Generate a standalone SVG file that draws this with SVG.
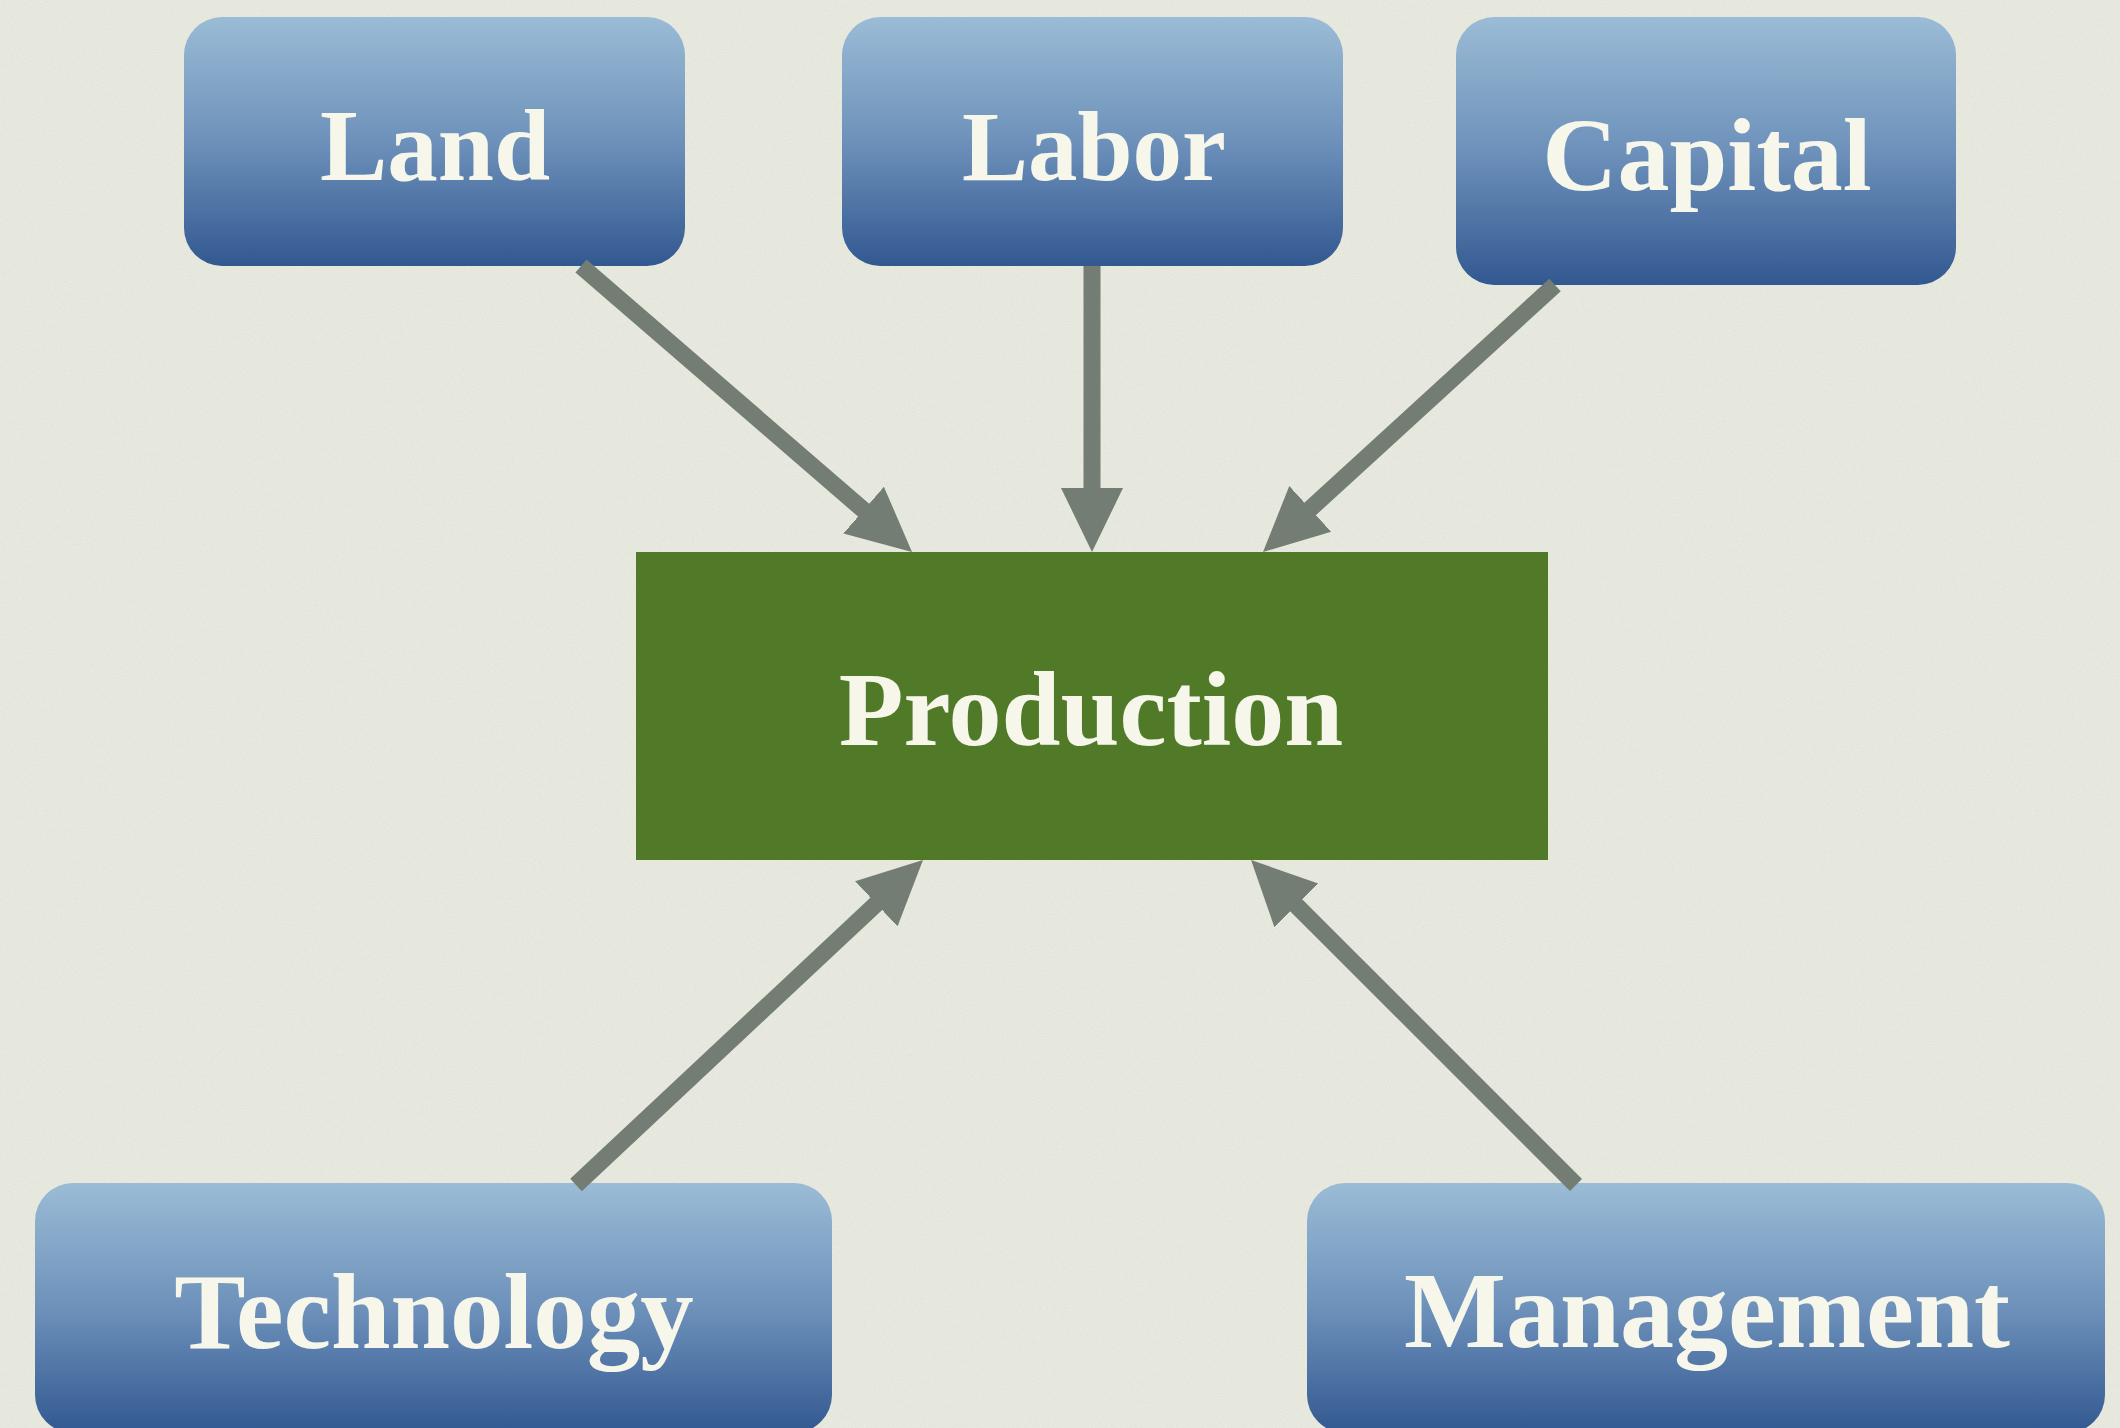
<svg xmlns="http://www.w3.org/2000/svg" width="2120" height="1428" viewBox="0 0 2120 1428">
<style>
.box{fill:url(#blueGrad)}
.lbl{font-family:"Liberation Serif","Times New Roman",serif;font-weight:bold;fill:#f6f7ea;text-anchor:middle}
.conn{stroke:#737d73;stroke-width:17;fill:none;marker-end:url(#arrow)}
</style>
<defs>
<linearGradient id="blueGrad" x1="0" y1="0" x2="0" y2="1">
<stop offset="0" stop-color="#9bbcd6"/>
<stop offset="0.5" stop-color="#6d91ba"/>
<stop offset="1" stop-color="#325891"/>
</linearGradient>
<marker id="arrow" markerUnits="userSpaceOnUse" markerWidth="64" markerHeight="64" refX="14" refY="32" orient="auto">
<path d="M0,1 L64,32 L0,63 z" fill="#737d73"/>
</marker>
<filter id="grain" x="0" y="0" width="100%" height="100%">
<feTurbulence type="fractalNoise" baseFrequency="0.9" numOctaves="2" seed="3" result="n"/>
<feColorMatrix type="matrix" values="0 0 0 0 0.55  0 0 0 0 0.56  0 0 0 0 0.5  0 0 0 -1.2 0.75"/>
</filter>
</defs>
<rect width="2120" height="1428" fill="#e9eadf"/>
<rect width="2120" height="1428" filter="url(#grain)" opacity="0.35"/>

<g id="land">
<rect class="box" x="184" y="17" width="501" height="249" rx="38" ry="38"/>
<text class="lbl" x="435" y="180" font-size="101">Land</text>
</g>
<g id="labor">
<rect class="box" x="842" y="17" width="501" height="249" rx="38" ry="38"/>
<text class="lbl" x="1094" y="180" font-size="99">Labor</text>
</g>
<g id="capital">
<rect class="box" x="1456" y="17" width="500" height="268" rx="38" ry="38"/>
<text class="lbl" x="1707" y="190" font-size="104">Capital</text>
</g>
<g id="production">
<rect x="636" y="552" width="912" height="308" fill="#507a28"/>
<text class="lbl" x="1091" y="745" font-size="106">Production</text>
</g>
<g id="technology">
<rect class="box" x="35" y="1183" width="797" height="250" rx="38" ry="38"/>
<text class="lbl" x="434" y="1348" font-size="107">Technology</text>
</g>
<g id="management">
<rect class="box" x="1307" y="1183" width="798" height="250" rx="38" ry="38"/>
<text class="lbl" x="1707" y="1347" font-size="108">Management</text>
</g>

<g id="connectors">
<line class="conn" x1="581" y1="266" x2="874.2" y2="519.3"/>
<line class="conn" x1="1092" y1="266" x2="1092" y2="502"/>
<line class="conn" x1="1555" y1="285" x2="1299.9" y2="518.3"/>
<line class="conn" x1="576" y1="1185" x2="886.5" y2="894.2"/>
<line class="conn" x1="1576" y1="1185" x2="1286.4" y2="895.4"/>
</g>
</svg>
